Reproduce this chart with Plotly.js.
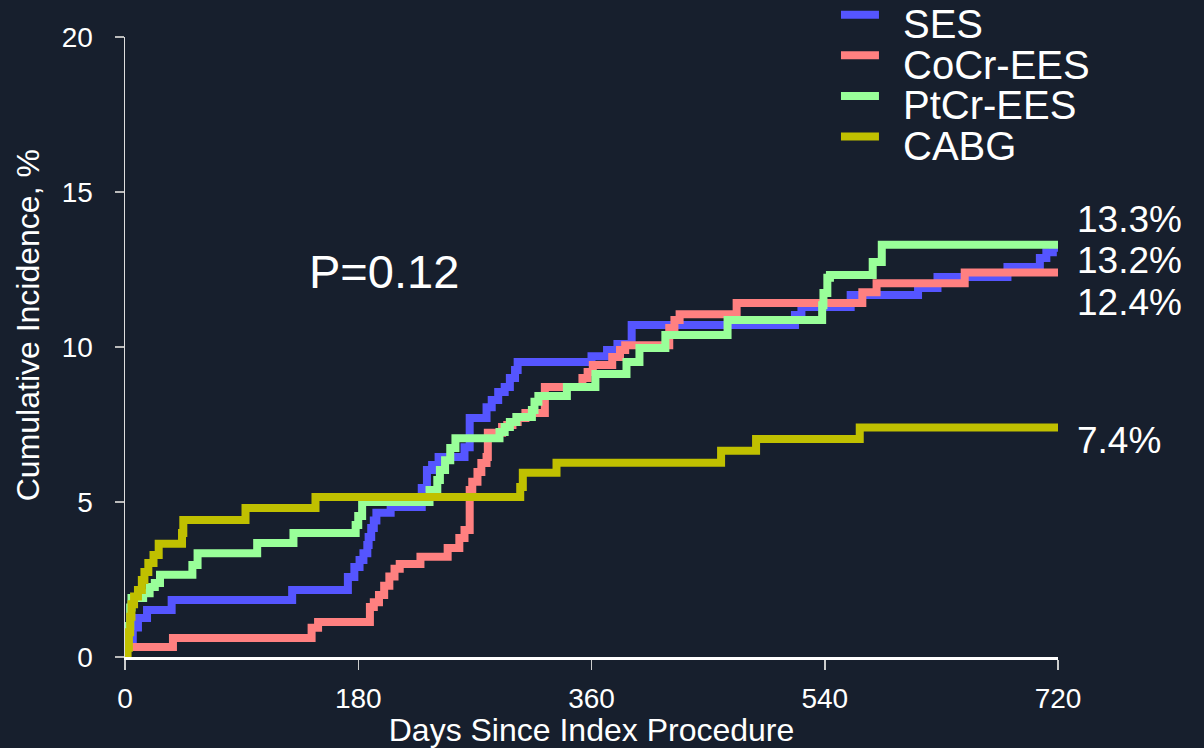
<!DOCTYPE html>
<html>
<head>
<meta charset="utf-8">
<script src="https://cdn.plot.ly/plotly-3.0.1.min.js"></script>
<style>
  html, body { margin: 0; padding: 0; background: #171f2d; }
  #chart { width: 1204px; height: 748px; }
</style>
</head>
<body>
<div id="chart"></div>
<script>
// ---- Data ----
const seriesNames = ["SES", "CoCr-EES", "PtCr-EES", "CABG"];
const seriesColors = ["#5555ff", "#ff8080", "#99ff99", "#c0c000"];

const sesDays = [0, 0.5, 6, 10, 17, 36, 129, 172, 177, 181, 184, 187, 188, 190, 192, 194, 205, 229, 233, 237, 242, 262, 266, 279, 283, 288, 293, 297, 301, 303, 360, 372, 380, 391, 517, 522, 560, 612, 627, 681, 706, 711, 716, 720];
const sesVals = [0, 0.52, 0.95, 1.26, 1.52, 1.84, 2.16, 2.58, 2.9, 3.13, 3.35, 3.61, 3.87, 4.16, 4.4, 4.65, 4.84, 5.45, 6.03, 6.19, 6.45, 6.77, 7.71, 8.06, 8.29, 8.55, 8.71, 9.0, 9.26, 9.52, 9.7, 9.9, 10.1, 10.71, 11.03, 11.29, 11.68, 11.9, 12.26, 12.58, 12.87, 13.06, 13.2, 13.2];

const cocrDays = [0, 1, 37, 144, 149, 189, 192, 196, 200, 204, 208, 212, 228, 249, 258, 262, 266, 268, 272, 275, 279, 280, 291, 295, 299, 303, 309, 324, 353, 357, 361, 376, 382, 386, 420, 424, 428, 472, 569, 580, 648, 720];
const cocrVals = [0, 0.32, 0.61, 0.94, 1.13, 1.61, 1.77, 2.0, 2.3, 2.6, 2.85, 3.0, 3.23, 3.52, 3.84, 4.1, 5.39, 5.65, 5.97, 6.26, 6.45, 7.23, 7.42, 7.48, 7.58, 7.71, 7.87, 8.71, 9.0, 9.19, 9.42, 9.68, 9.9, 10.06, 10.61, 10.87, 11.06, 11.42, 11.77, 12.06, 12.4, 12.4];

const ptcrDays = [0, 1, 2, 4, 5, 14, 19, 23, 27, 52, 56, 102, 130, 178, 180, 183, 235, 241, 243, 247, 251, 255, 289, 293, 297, 302, 314, 316, 319, 341, 363, 387, 397, 417, 465, 538, 539, 542, 544, 577, 584, 720];
const ptcrVals = [0, 0.5, 1.0, 1.6, 1.9, 2.06, 2.26, 2.39, 2.65, 2.97, 3.35, 3.68, 4.0, 4.26, 4.55, 5.0, 5.39, 5.71, 6.03, 6.35, 6.74, 7.06, 7.26, 7.42, 7.58, 7.74, 7.97, 8.23, 8.42, 8.71, 9.13, 9.52, 9.97, 10.39, 10.87, 11.35, 11.74, 12.23, 12.32, 12.74, 13.3, 13.3];

const cabgDays = [0, 2, 3, 4, 5, 7, 10, 13, 15, 18, 22, 26, 44, 45, 93, 147, 305, 307, 333, 460, 487, 567, 720];
const cabgVals = [0, 0.3, 0.8, 1.3, 1.7, 1.95, 2.16, 2.48, 2.74, 3.03, 3.29, 3.65, 4.0, 4.42, 4.81, 5.16, 5.48, 5.94, 6.27, 6.65, 7.03, 7.4, 7.4];

const endLabels = ["13.3%", "13.2%", "12.4%", "7.4%"];
const endLabelY = [14.1, 12.8, 11.45, 6.97];
const pValueText = "P=0.12";

const xTicks = [0, 180, 360, 540, 720];
const yTicks = [0, 5, 10, 15, 20];
const xTitle = "Days Since Index Procedure";
const yTitle = "Cumulative Incidence, %";

// ---- Build traces ----
const allDays = [sesDays, cocrDays, ptcrDays, cabgDays];
const allVals = [sesVals, cocrVals, ptcrVals, cabgVals];

const traces = seriesNames.map((name, i) => ({
  type: "scatter",
  mode: "lines",
  name: name,
  x: allDays[i],
  y: allVals[i],
  line: { shape: "hv", color: seriesColors[i], width: 8 },
  showlegend: false,
  hoverinfo: "x+y+name"
}));

const FONT = "Liberation Sans, Arial, Helvetica, sans-serif";

// Custom legend (text annotations + swatch shapes) in paper coordinates
const legendTop = 1.036;   // swatch y of first entry
const legendStep = 0.0655; // spacing between entries
const annotations = [];
const shapes = [];
seriesNames.forEach((name, i) => {
  const ys = legendTop - i * legendStep;
  shapes.push({
    type: "line", xref: "paper", yref: "paper",
    x0: 0.7674, x1: 0.8081, y0: ys, y1: ys,
    line: { color: seriesColors[i], width: 8 }
  });
  annotations.push({
    xref: "paper", yref: "paper", x: 0.8315, y: ys - 0.015,
    xanchor: "left", yanchor: "middle", showarrow: false,
    text: name, font: { family: FONT, size: 40, color: "#ffffff" }
  });
});

endLabels.forEach((t, i) => {
  annotations.push({
    xref: "paper", yref: "y", x: 1.018, y: endLabelY[i],
    xanchor: "left", yanchor: "middle", showarrow: false,
    text: t, font: { family: FONT, size: 37, color: "#ffffff" }
  });
});

annotations.push({
  xref: "x", yref: "y", x: 200, y: 12.42,
  xanchor: "center", yanchor: "middle", showarrow: false,
  text: pValueText, font: { family: FONT, size: 47, color: "#ffffff" }
});

annotations.push({
  xref: "paper", yref: "paper", x: -0.104, y: 0.535,
  xanchor: "center", yanchor: "middle", showarrow: false, textangle: -90,
  text: yTitle, font: { family: FONT, size: 32, color: "#ffffff" }
});

const layout = {
  width: 1204,
  height: 748,
  margin: { l: 125, r: 146, t: 37, b: 91, pad: 0 },
  paper_bgcolor: "#171f2d",
  plot_bgcolor: "#171f2d",
  font: { family: FONT, color: "#ffffff" },
  showlegend: false,
  xaxis: {
    range: [0, 720],
    tickvals: xTicks,
    ticktext: xTicks.map(String),
    showgrid: false,
    zeroline: false,
    showline: true,
    linecolor: "#ffffff",
    linewidth: 3,
    ticks: "outside",
    ticklen: 10,
    tickwidth: 1.5,
    tickcolor: "#cccccc",
    ticklabelstandoff: 4,
    tickfont: { family: FONT, size: 28, color: "#ffffff" },
    title: { text: xTitle, font: { family: FONT, size: 32, color: "#ffffff" }, standoff: 12 },
    fixedrange: true
  },
  yaxis: {
    range: [0, 20],
    tickvals: yTicks,
    ticktext: yTicks.map(String),
    showgrid: false,
    zeroline: false,
    showline: true,
    linecolor: "#dddddd",
    linewidth: 1.5,
    ticks: "outside",
    ticklen: 9,
    tickwidth: 1.5,
    tickcolor: "#bbbbbb",
    ticklabelstandoff: 16,
    tickfont: { family: FONT, size: 28, color: "#ffffff" },
    fixedrange: true
  },
  annotations: annotations,
  shapes: shapes
};

Plotly.newPlot("chart", traces, layout, { displayModeBar: false, staticPlot: true });
</script>
</body>
</html>
